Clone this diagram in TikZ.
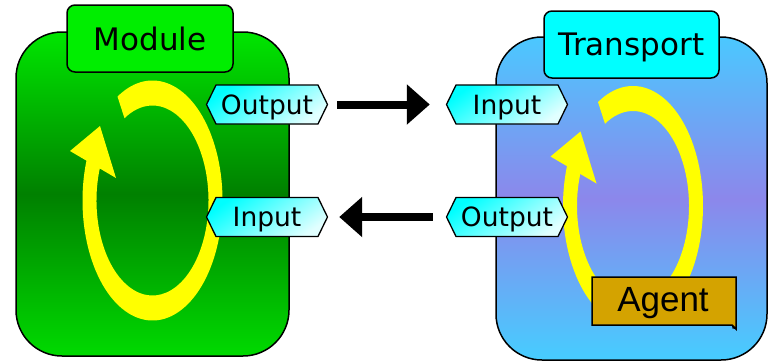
\documentclass[tikz,border=0pt]{standalone}
\usepackage{fontspec}
\setmainfont{DejaVu Sans}
\newfontfamily\agentfont{Liberation Sans}
\usetikzlibrary{shapes.symbols,arrows.meta}
\definecolor{gtop}{RGB}{0,230,0}
\definecolor{gmid}{RGB}{0,128,0}
\definecolor{gbot}{RGB}{0,218,0}
\definecolor{btop}{RGB}{75,200,255}
\definecolor{bmid}{RGB}{140,135,235}
\definecolor{bbot}{RGB}{70,205,255}
\definecolor{tabgreen}{RGB}{0,238,0}
\definecolor{tabcyan}{RGB}{0,255,255}
\definecolor{portpale}{RGB}{225,255,255}
\definecolor{agentfill}{RGB}{212,163,0}
\definecolor{loopyellow}{RGB}{255,255,0}
\begin{document}
\begin{tikzpicture}[x=1pt,y=-1pt,
  outline/.style={draw=black, line width=1.5pt},
  bigbox/.style={outline, rounded corners=46pt, inner sep=0pt},
  tabbox/.style={outline, rounded corners=8pt, inner sep=0pt, text depth=0pt, font=\fontsize{31}{36}\selectfont},
  port/.style={signal, signal to=west and east, signal pointer angle=128, draw=black, line width=1.3pt,
    minimum width=121pt, minimum height=39pt, inner sep=0pt, text depth=0pt, font=\fontsize{26.5}{30}\selectfont,
    left color=tabcyan, right color=portpale, shading angle=35},
  flow/.style={line width=8pt, -{Triangle[length=23pt,width=39pt]}},
  cycloop/.pic={
    \begin{scope}[yscale=-1]
      \fill[loopyellow] (120:70 and 120) arc[start angle=120,end angle=-205,x radius=70,y radius=120]
        -- (-205:56 and 95) arc[start angle=-205,end angle=120,x radius=56,y radius=95] -- cycle;
      \fill[loopyellow] (-52.5,74.5) -- (-82.5,49.5) -- (-36.5,22.5) -- cycle;
    \end{scope}
  }
]
\useasboundingbox (0,0) rectangle (769,362);
% big boxes
\node[bigbox, minimum width=273pt, minimum height=324pt, top color=gtop, bottom color=gbot, middle color=gmid] (modbox) at (152.5,194) {};
\node[bigbox, minimum width=271pt, minimum height=323pt, top color=btop, bottom color=bbot, middle color=bmid] (trbox) at (631.5,198.5) {};
% tabs
\node[tabbox, fill=tabgreen, minimum width=166pt, minimum height=67pt] (modtab) at (150,38.5) {Module};
\node[tabbox, fill=tabcyan, minimum width=175pt, minimum height=67pt] (trtab) at (631.5,44.5) {Transport};
% loops
\pic at (152.5,200.5) {cycloop};
\pic at (633,206) {cycloop};
% ports
\node[port] (lo) at (267,104.5) {Output};
\node[port] (li) at (267,217) {Input};
\node[port] (ri) at (507,104.5) {Input};
\node[port] (ro) at (507,217) {Output};
% agent
\coordinate (agnw) at (592,277);
\coordinate (agse) at (736,325);
\filldraw[fill=agentfill, draw=black, line width=1.5pt] (agnw) -- (agnw -| agse) -- ([yshift=-4pt]agse) -- ([xshift=-4pt]agse) -- (agnw |- agse) -- cycle;
\fill[black] ([yshift=-4pt]agse) -- ([xshift=-4pt]agse) -- ([xshift=-3.5pt,yshift=-3.5pt]agse) -- cycle;
\node[font=\agentfont\fontsize{35}{40}\selectfont, inner sep=0pt, text depth=0pt] (agent) at (663,299.5) {Agent};
% flows
\draw[flow, shorten <=9pt, shorten >=16pt] (lo.east) -- (ri.west);
\draw[flow, shorten <=13pt, shorten >=11pt] (ro.west) -- (li.east);
\end{tikzpicture}
\end{document}
